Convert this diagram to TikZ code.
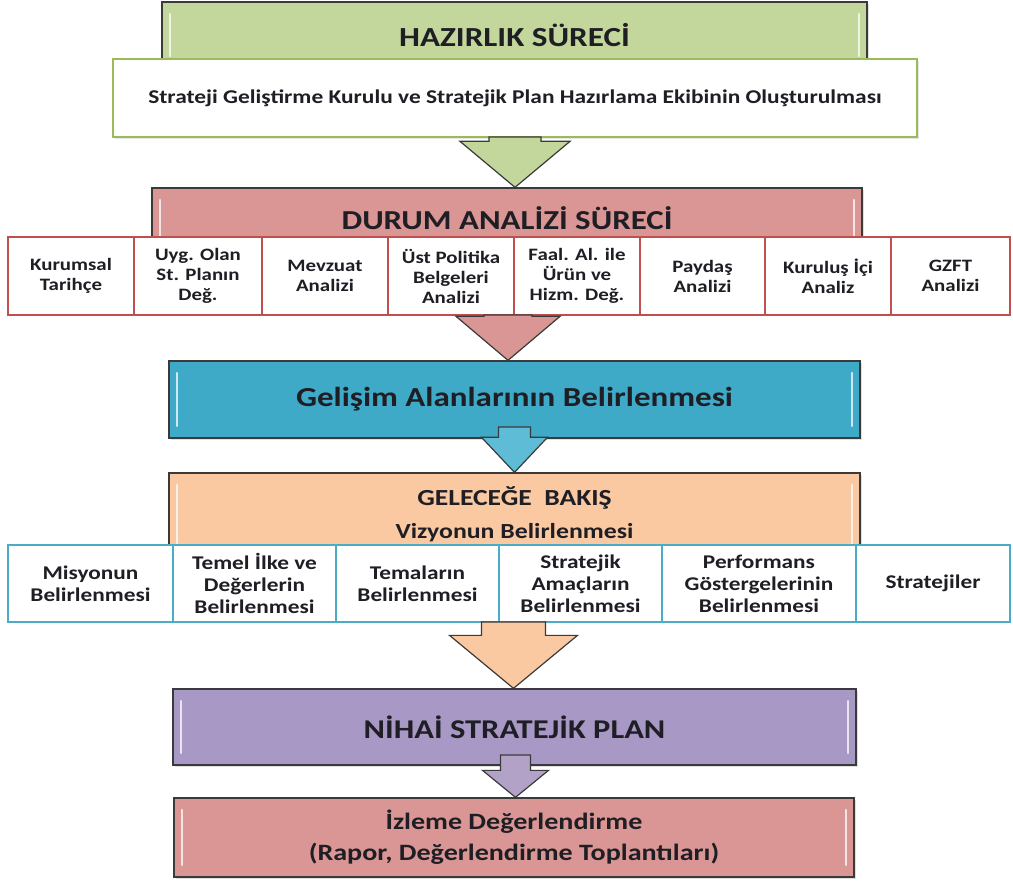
\documentclass[tikz,border=0pt]{standalone}
\usepackage{fontspec}
\setmainfont{Carlito}[FakeStretch=1.2]
\usetikzlibrary{calc,shadows}
\definecolor{txt}{HTML}{1E1E24}
\definecolor{edge}{HTML}{3A3A3A}
\definecolor{gfill}{HTML}{C3D69B}
\definecolor{gline}{HTML}{9BBB59}
\definecolor{rfill}{HTML}{D99694}
\definecolor{rline}{HTML}{C0504D}
\definecolor{bfill}{HTML}{3FA9C8}
\definecolor{bline}{HTML}{4BACC6}
\definecolor{barrowc}{HTML}{5FBCD6}
\definecolor{pfill}{HTML}{FAC9A2}
\definecolor{vfill}{HTML}{A898C6}
\definecolor{vline}{HTML}{B3A2C7}
\newcommand{\flowarrow}[6]{%
  \draw[blockarrow, fill=#6] let \p1=(#1), \p2=(#2.north) in
    (\x1-#3pt,\y1) -- (\x1+#3pt,\y1) -- (\x1+#3pt,\y2+#5pt) -- (\x1+#4pt,\y2+#5pt)
    -- (\x1,\y2) -- (\x1-#4pt,\y2+#5pt) -- (\x1-#3pt,\y2+#5pt) -- cycle;}
\begin{document}
\begin{tikzpicture}[x=1pt,y=-1pt,
  stage/.style={draw=edge, line width=1.3pt, inner sep=0pt, text=txt, align=center,
    drop shadow={opacity=0.25, shadow xshift=1.5pt, shadow yshift=-2pt},
    path picture={
      \draw[white, opacity=0.75, line width=2.2pt, line cap=round]
        ([xshift=8pt,yshift=-12pt]path picture bounding box.north west) --
        ([xshift=8pt,yshift=12pt]path picture bounding box.south west);
      \draw[white, opacity=0.75, line width=2.2pt, line cap=round]
        ([xshift=-8pt,yshift=-12pt]path picture bounding box.north east) --
        ([xshift=-8pt,yshift=12pt]path picture bounding box.south east);}},
  cellA/.style={draw=rline, fill=white, line width=2.6pt, minimum height=78pt, inner sep=1pt,
    align=center, text=txt, font=\bfseries\fontsize{17.4}{20}\selectfont},
  cellB/.style={draw=bline, fill=white, line width=2.8pt, minimum height=77pt, inner sep=1pt,
    align=center, text=txt, font=\bfseries\fontsize{19.4}{22}\selectfont},
  blockarrow/.style={draw=edge, line width=1.2pt, line join=miter}
]
\useasboundingbox (0,0) rectangle (1013,882);

% HAZIRLIK
\node[stage, fill=gfill, font=\bfseries\fontsize{27.6}{32}\selectfont, minimum width=705pt, minimum height=66pt] (h) at (514.5,35) {HAZIRLIK SÜRECİ};
\node[draw=gline, fill=white, line width=2.6pt, minimum width=804pt, minimum height=78pt,
  text=txt, font=\bfseries\fontsize{19.5}{22}\selectfont,
  drop shadow={opacity=0.2, shadow xshift=1.5pt, shadow yshift=-2pt}] (w) at (515,98)
  {Strateji Geliştirme Kurulu ve Stratejik Plan Hazırlama Ekibinin Oluşturulması};

% DURUM ANALIZI
\node[stage, fill=rfill, font=\bfseries\fontsize{27.4}{32}\selectfont, minimum width=710pt, minimum height=60pt] (d) at (507,218) {DURUM ANALİZİ SÜRECİ};
\node[cellA, minimum width=126pt] (c1) at (71,276) {Kurumsal\\Tarihçe};
\node[cellA, minimum width=128pt] (c2) at (198,276) {Uyg. Olan\\St. Planın\\Değ.};
\node[cellA, minimum width=126pt] (c3) at (325,276) {Mevzuat\\Analizi};
\node[cellA, minimum width=126pt] (c4) at (451,276) {Üst Politika\\Belgeleri\\Analizi};
\node[cellA, minimum width=126pt] (c5) at (577,276) {Faal. Al. ile\\Ürün ve\\Hizm. Değ.};
\node[cellA, minimum width=125pt] (c6) at (702.5,276) {Paydaş\\Analizi};
\node[cellA, minimum width=126pt] (c7) at (828,276) {Kuruluş İçi\\Analiz};
\node[cellA, minimum width=119pt] (c8) at (950.5,276) {GZFT\\Analizi};

% GELISIM
\node[stage, fill=bfill, font=\bfseries\fontsize{27.5}{32}\selectfont, minimum width=691pt, minimum height=77pt] (g) at (514.5,399.5) {Gelişim Alanlarının Belirlenmesi};

% GELECEGE BAKIS
\node[stage, fill=pfill, font=\bfseries\fontsize{23}{33}\selectfont, minimum width=691pt, minimum height=82pt] (f) at (514.5,514)
  {GELECEĞE~~BAKIŞ\\{\fontsize{21.5}{33}\selectfont Vizyonun Belirlenmesi}};
\node[cellB, minimum width=165pt] (e1) at (90.5,583.5) {Misyonun\\Belirlenmesi};
\node[cellB, minimum width=163pt] (e2) at (254.5,583.5) {Temel İlke ve\\Değerlerin\\Belirlenmesi};
\node[cellB, minimum width=163pt] (e3) at (417.5,583.5) {Temaların\\Belirlenmesi};
\node[cellB, minimum width=163pt] (e4) at (580.5,583.5) {Stratejik\\Amaçların\\Belirlenmesi};
\node[cellB, minimum width=194pt] (e5) at (759,583.5) {Performans\\Göstergelerinin\\Belirlenmesi};
\node[cellB, minimum width=154pt] (e6) at (933,583.5) {Stratejiler};

% NIHAI
\node[stage, fill=vfill, font=\bfseries\fontsize{27.1}{32}\selectfont, minimum width=683pt, minimum height=76pt] (n) at (514.5,727) {NİHAİ STRATEJİK PLAN};

% IZLEME
\node[stage, fill=rfill, font=\bfseries\fontsize{23.4}{31}\selectfont, minimum width=680pt, minimum height=79pt] (z) at (514,837.5)
  {İzleme Değerlendirme\\(Rapor, Değerlendirme Toplantıları)};

% arrows
\coordinate (s1) at (515,137);
\coordinate (s2) at (508,315);
\coordinate (s3) at (514.5,427);
\coordinate (s4) at (513.5,622);
\coordinate (s5) at (515.5,755);
\flowarrow{s1}{d}{26}{55}{46}{gfill}
\flowarrow{s2}{g}{24}{52}{44}{rfill}
\flowarrow{s3}{f}{16}{33}{35}{barrowc}
\flowarrow{s4}{n}{32}{64}{53}{pfill}
\flowarrow{s5}{z}{15}{33}{27}{vline}
\end{tikzpicture}
\end{document}
